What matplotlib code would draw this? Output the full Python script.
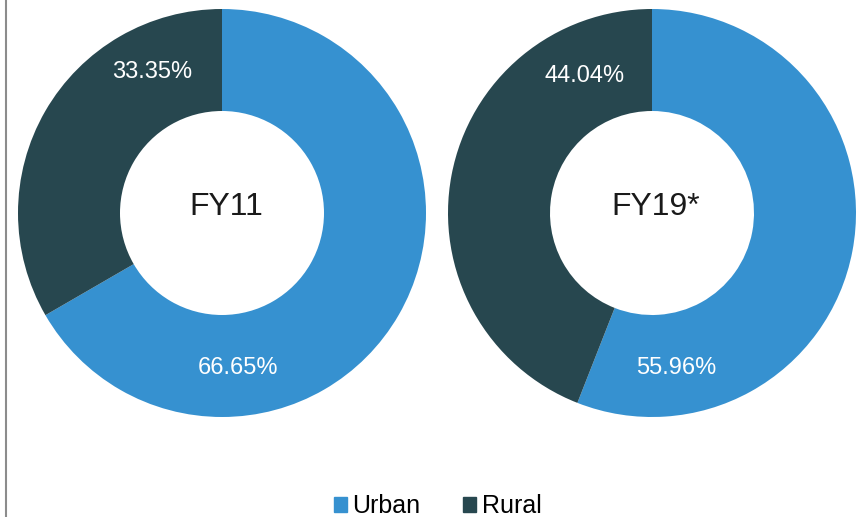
import matplotlib.pyplot as plt
import matplotlib.patches as mpatches
from matplotlib.lines import Line2D

plt.rcParams['font.family'] = ['Liberation Sans', 'DejaVu Sans']

# data
categories = ['Urban', 'Rural']
years = ['FY11', 'FY19*']
fy11 = [66.65, 33.35]
fy19 = [55.96, 44.04]
colors = ['#3691D0', '#27474F']

W, H = 860, 517
fig = plt.figure(figsize=(W / 100, H / 100), dpi=100)

# left border line
fig.add_artist(Line2D([5.5 / W, 5.5 / W], [0, 1], color='#8c8c8c', linewidth=1.5))

R = 204  # outer radius in px
centers = [(222, 213), (652, 213)]
# label offsets (relative to radius), as placed in the original
label_pos = [[(0.08, -0.76), (-0.34, 0.69)],
             [(0.12, -0.76), (-0.33, 0.67)]]

for vals, name, (cx, cy), lp in zip([fy11, fy19], years, centers, label_pos):
    ax = fig.add_axes([(cx - R) / W, 1 - (cy + R) / H, 2 * R / W, 2 * R / H])
    ax.pie(vals, colors=colors, startangle=90, counterclock=False,
           wedgeprops=dict(width=0.5, edgecolor='none'))
    ax.set_xlim(-1, 1)
    ax.set_ylim(-1, 1)
    ax.set_aspect('equal')
    ax.axis('off')
    ax.text(0.02, 0.03, name, ha='center', va='center', fontsize=23, color='#1a1a1a')
    for v, (px, py) in zip(vals, lp):
        ax.text(px, py, f'{v:.2f}%', ha='center', va='center', fontsize=17, color='white')

handles = [mpatches.Patch(color=c, label=l) for c, l in zip(colors, categories)]
fig.legend(handles=handles, loc='center', bbox_to_anchor=(0.509, 0.021), ncol=2,
           frameon=False, fontsize=18, handlelength=0.52, handleheight=0.52,
           handletextpad=0.24, columnspacing=1.7, borderpad=0)

fig.savefig('out.png', dpi=100)
